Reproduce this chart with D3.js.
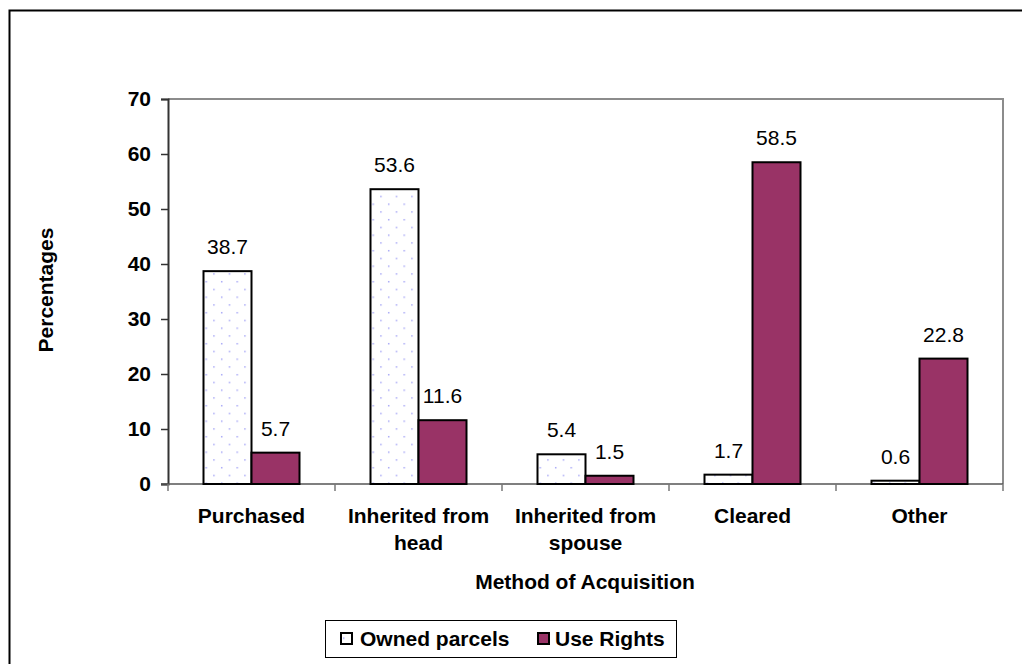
<!DOCTYPE html>
<html>
<head>
<meta charset="utf-8">
<script src="https://cdn.jsdelivr.net/npm/d3@7"></script>
<style>
  html, body { margin: 0; padding: 0; background: #fff; }
  svg { display: block; font-family: "Liberation Sans", Arial, sans-serif; }
</style>
</head>
<body>
<svg id="chart" width="1022" height="664"></svg>
<script>
// Method of acquisition of land parcels (percentages)
const categories = [["Purchased"], ["Inherited from", "head"], ["Inherited from", "spouse"], ["Cleared"], ["Other"]];
const seriesNames = ["Owned parcels", "Use Rights"];
const ownedParcels = [38.7, 53.6, 5.4, 1.7, 0.6];
const useRights = [5.7, 11.6, 1.5, 58.5, 22.8];
const yTicks = [0, 10, 20, 30, 40, 50, 60, 70];

const svg = d3.select("#chart");
const W = 1022, H = 664;
const plot = { left: 168, top: 99, right: 1003, bottom: 484 };
const FS = 21;

// outer frame of the chart area
svg.append("rect")
  .attr("x", 9.5).attr("y", 10.5)
  .attr("width", W + 20).attr("height", H + 20)
  .attr("fill", "#fff").attr("stroke", "#000").attr("stroke-width", 2);

// pattern for the owned-parcel bars: sparse light blue dots
const defs = svg.append("defs");
const pat = defs.append("pattern")
  .attr("id", "dots").attr("patternUnits", "userSpaceOnUse")
  .attr("width", 15.5).attr("height", 15.5);
pat.append("rect").attr("width", 15.5).attr("height", 15.5).attr("fill", "#fff");
pat.append("rect").attr("x", 2).attr("y", 2).attr("width", 1.4).attr("height", 1.4).attr("fill", "#9d9df5");
pat.append("rect").attr("x", 9.75).attr("y", 9.75).attr("width", 1.4).attr("height", 1.4).attr("fill", "#9d9df5");

const labelKeys = categories.map(c => c.join(" "));
const x0 = d3.scaleBand().domain(labelKeys).range([plot.left, plot.right]).paddingInner(0).paddingOuter(0);
const groupW = 96;
const x1 = d3.scaleBand().domain(seriesNames).range([0, groupW]).padding(0);
const y = d3.scaleLinear().domain([0, 70]).range([plot.bottom, plot.top]);

// plot border (top and right, gray)
svg.append("path")
  .attr("d", `M${plot.left},${plot.top}H${plot.right}V${plot.bottom}`)
  .attr("fill", "none").attr("stroke", "#8c8c8c").attr("stroke-width", 2);

// y axis
const yAxis = svg.append("g")
  .attr("transform", `translate(${plot.left},0)`)
  .call(d3.axisLeft(y).tickValues(yTicks).tickSize(7).tickPadding(10).tickFormat(d3.format("d")));
yAxis.select(".domain").attr("stroke", "#333").attr("stroke-width", 2);
yAxis.selectAll(".tick line").attr("stroke", "#333").attr("stroke-width", 1.5);
yAxis.selectAll("text").attr("font-size", FS).attr("font-weight", "bold").attr("fill", "#000")
  .attr("font-family", "Liberation Sans, Arial, sans-serif");

// x axis baseline and category separators
const xg = svg.append("g");
xg.append("line")
  .attr("x1", plot.left - 7).attr("x2", plot.right)
  .attr("y1", plot.bottom).attr("y2", plot.bottom)
  .attr("stroke", "#555").attr("stroke-width", 1.5);
const bounds = labelKeys.map(k => x0(k)).concat([plot.right]);
xg.selectAll("line.sep").data(bounds).enter().append("line")
  .attr("class", "sep")
  .attr("x1", d => d).attr("x2", d => d)
  .attr("y1", plot.bottom).attr("y2", plot.bottom + 7)
  .attr("stroke", "#777").attr("stroke-width", 1.5);

// category labels
categories.forEach((lines, i) => {
  const cx = x0(labelKeys[i]) + x0.bandwidth() / 2;
  const t = svg.append("text")
    .attr("x", cx).attr("y", 523)
    .attr("text-anchor", "middle").attr("font-size", FS).attr("font-weight", "bold");
  lines.forEach((ln, j) => t.append("tspan").attr("x", cx).attr("dy", j === 0 ? 0 : 27).text(ln));
});

// bars
const rows = labelKeys.map((k, i) => ({ key: k, values: [ownedParcels[i], useRights[i]] }));
const groups = svg.selectAll("g.grp").data(rows).enter().append("g")
  .attr("class", "grp")
  .attr("transform", d => `translate(${x0(d.key) + (x0.bandwidth() - groupW) / 2},0)`);

groups.selectAll("rect").data(d => d.values.map((v, j) => ({ s: seriesNames[j], v })))
  .enter().append("rect")
  .attr("x", d => x1(d.s))
  .attr("y", d => y(d.v))
  .attr("width", x1.bandwidth())
  .attr("height", d => y(0) - y(d.v))
  .attr("fill", d => d.s === seriesNames[0] ? "url(#dots)" : "#993366")
  .attr("stroke", "#000").attr("stroke-width", 2);

groups.selectAll("text").data(d => d.values.map((v, j) => ({ s: seriesNames[j], v })))
  .enter().append("text")
  .attr("x", d => x1(d.s) + x1.bandwidth() / 2)
  .attr("y", d => y(d.v) - 17)
  .attr("text-anchor", "middle").attr("font-size", FS)
  .text(d => d3.format(".1f")(d.v));

// axis titles
svg.append("text")
  .attr("transform", "translate(53,290) rotate(-90)")
  .attr("text-anchor", "middle").attr("font-size", FS).attr("font-weight", "bold")
  .text("Percentages");
svg.append("text")
  .attr("x", 585).attr("y", 589)
  .attr("text-anchor", "middle").attr("font-size", FS).attr("font-weight", "bold")
  .text("Method of Acquisition");

// legend
const lg = svg.append("g");
lg.append("rect").attr("x", 325.5).attr("y", 620.5).attr("width", 351).attr("height", 37)
  .attr("fill", "#fff").attr("stroke", "#000").attr("stroke-width", 1);
const legendItems = [
  { name: seriesNames[0], sx: 341, tx: 360, fill: "url(#dots)" },
  { name: seriesNames[1], sx: 538, tx: 555, fill: "#993366" }
];
legendItems.forEach(it => {
  lg.append("rect").attr("x", it.sx).attr("y", 633).attr("width", 11).attr("height", 11)
    .attr("fill", it.fill).attr("stroke", "#000").attr("stroke-width", 2);
  lg.append("text").attr("x", it.tx).attr("y", 646)
    .attr("font-size", FS).attr("font-weight", "bold").text(it.name);
});
</script>
</body>
</html>
